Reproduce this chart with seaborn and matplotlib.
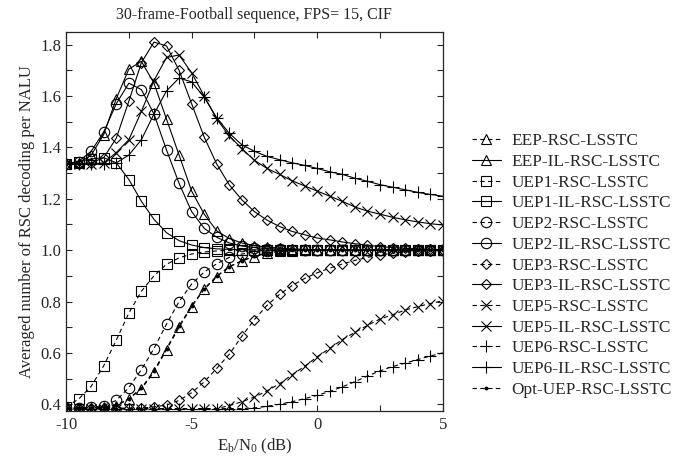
import matplotlib
matplotlib.use("Agg")
import matplotlib.pyplot as plt
import seaborn as sns
import pandas as pd
from matplotlib.ticker import MultipleLocator

ebn0 = [-10.0, -9.5, -9.0, -8.5, -8.0, -7.5, -7.0, -6.5, -6.0, -5.5, -5.0, -4.5, -4.0, -3.5,
        -3.0, -2.5, -2.0, -1.5, -1.0, -0.5, 0.0, 0.5, 1.0, 1.5, 2.0, 2.5, 3.0, 3.5, 4.0, 4.5, 5.0]

eep_rsc = [0.385, 0.385, 0.385, 0.388, 0.395, 0.42, 0.46, 0.525, 0.612, 0.70, 0.78, 0.848, 0.897,
           0.935, 0.958, 0.975, 0.988, 0.995, 0.998] + [1.0] * 12
eep_il = [1.335, 1.34, 1.37, 1.45, 1.59, 1.705, 1.735, 1.65, 1.51, 1.37, 1.23, 1.14, 1.075, 1.045,
          1.028, 1.018, 1.012, 1.008, 1.005, 1.003, 1.002, 1.001] + [1.0] * 9
uep1_rsc = [0.39, 0.42, 0.47, 0.55, 0.65, 0.755, 0.84, 0.90, 0.945, 0.97, 0.985, 0.993, 0.997,
            0.999] + [1.0] * 17
uep1_il = [1.335, 1.345, 1.355, 1.36, 1.34, 1.275, 1.19, 1.12, 1.068, 1.037, 1.02, 1.01, 1.005,
           1.003, 1.002, 1.001] + [1.0] * 15
uep2_rsc = [0.385, 0.385, 0.388, 0.395, 0.415, 0.465, 0.535, 0.617, 0.712, 0.80, 0.868, 0.915,
            0.947, 0.972, 0.985, 0.993, 0.997, 0.999] + [1.0] * 13
uep2_il = [1.335, 1.345, 1.385, 1.46, 1.57, 1.65, 1.625, 1.53, 1.39, 1.26, 1.15, 1.085, 1.05,
           1.028, 1.016, 1.01, 1.006, 1.004, 1.002, 1.001] + [1.0] * 11
uep3_rsc = [0.385] * 7 + [0.39, 0.397, 0.415, 0.445, 0.487, 0.54, 0.595, 0.665, 0.73, 0.785, 0.828,
                          0.862, 0.89, 0.912, 0.93, 0.946, 0.96, 0.972, 0.981, 0.988, 0.993, 0.996,
                          0.998, 0.999]
uep3_il = [1.335, 1.335, 1.34, 1.36, 1.436, 1.58, 1.73, 1.81, 1.795, 1.70, 1.57, 1.44, 1.335, 1.254,
           1.196, 1.15, 1.117, 1.092, 1.073, 1.06, 1.047, 1.04, 1.032, 1.025, 1.019, 1.014, 1.01,
           1.007, 1.005, 1.003, 1.002]
uep5_rsc = [0.383] * 13 + [0.395, 0.41, 0.428, 0.452, 0.48, 0.515, 0.548, 0.585, 0.618, 0.652, 0.68,
                           0.707, 0.732, 0.748, 0.767, 0.78, 0.792, 0.803]
uep5_il = [1.335, 1.335, 1.335, 1.34, 1.38, 1.43, 1.54, 1.66, 1.75, 1.76, 1.69, 1.60, 1.51, 1.445,
           1.395, 1.35, 1.318, 1.295, 1.27, 1.25, 1.23, 1.21, 1.19, 1.168, 1.152, 1.14, 1.128,
           1.118, 1.11, 1.103, 1.098]
uep6_rsc = [0.383] * 15 + [0.386, 0.392, 0.40, 0.41, 0.422, 0.435, 0.45, 0.468, 0.488, 0.51, 0.53,
                           0.547, 0.56, 0.574, 0.588, 0.60]
uep6_il = [1.335, 1.335, 1.335, 1.335, 1.34, 1.37, 1.43, 1.53, 1.62, 1.67, 1.655, 1.595, 1.515,
           1.455, 1.41, 1.385, 1.365, 1.352, 1.34, 1.33, 1.318, 1.305, 1.295, 1.28, 1.268, 1.255,
           1.245, 1.235, 1.225, 1.217, 1.21]
opt_uep = [0.385, 0.385, 0.385, 0.388, 0.396, 0.422, 0.463, 0.53, 0.617, 0.705, 0.783, 0.85, 0.899,
           0.936, 0.959, 0.977, 0.99, 0.996, 0.999] + [1.0] * 12

labels = ["EEP-RSC-LSSTC", "EEP-IL-RSC-LSSTC", "UEP1-RSC-LSSTC", "UEP1-IL-RSC-LSSTC",
          "UEP2-RSC-LSSTC", "UEP2-IL-RSC-LSSTC", "UEP3-RSC-LSSTC", "UEP3-IL-RSC-LSSTC",
          "UEP5-RSC-LSSTC", "UEP5-IL-RSC-LSSTC", "UEP6-RSC-LSSTC", "UEP6-IL-RSC-LSSTC",
          "Opt-UEP-RSC-LSSTC"]
series = [eep_rsc, eep_il, uep1_rsc, uep1_il, uep2_rsc, uep2_il, uep3_rsc, uep3_il,
          uep5_rsc, uep5_il, uep6_rsc, uep6_il, opt_uep]
markers = ["^", "^", "s", "s", "o", "o", "D", "D", "x", "x", "+", "+", "."]
msizes = [7.5, 7.5, 7, 7, 7.5, 7.5, 5.5, 5.5, 7.5, 7.5, 9, 9, 4]

sns.set_style("ticks")
plt.rcParams["font.family"] = ["Liberation Serif", "DejaVu Serif"]
plt.rcParams["mathtext.fontset"] = "custom"
plt.rcParams["mathtext.rm"] = "Liberation Serif"
plt.rcParams["mathtext.it"] = "Liberation Serif:italic"

fig = plt.figure(figsize=(6.74, 4.61), dpi=100)
ax = fig.add_axes([0.098, 0.108, 0.559, 0.823])

dash = (0, (4, 3))
for i, (lab, ys) in enumerate(zip(labels, series)):
    df = pd.DataFrame({"x": ebn0, "y": ys})
    solid = "-IL-" in lab
    mk = markers[i]
    kw = dict(marker=mk, markersize=msizes[i], markeredgecolor="black",
              markeredgewidth=0.8)
    if mk == ".":
        kw["markerfacecolor"] = "black"
    elif mk not in ("x", "+"):
        kw["markerfacecolor"] = "none"
    sns.lineplot(data=df, x="x", y="y", ax=ax, color="black", linewidth=0.8,
                 linestyle="-" if solid else dash, label=lab, **kw)

ax.set_xlim(-10, 5)
ax.set_ylim(0.373, 1.85)
ax.xaxis.set_major_locator(MultipleLocator(5))
ax.xaxis.set_minor_locator(MultipleLocator(2.5))
ax.yaxis.set_major_locator(MultipleLocator(0.2))
ax.yaxis.set_minor_locator(MultipleLocator(0.1))
ax.tick_params(which="both", direction="in", top=True, right=True, length=4, width=0.8,
               labelsize=12)
ax.tick_params(axis="x", pad=4)
for s in ax.spines.values():
    s.set_linewidth(0.9)
ax.set_xticklabels([f"{int(v)}" for v in ax.get_xticks()])
ax.set_xlabel(r"E$_\mathrm{b}$/N$_0$ (dB)", fontsize=12, labelpad=3)
ax.set_ylabel("Averaged number of RSC decoding per NALU", fontsize=12)
ax.set_title("30-frame-Football sequence, FPS= 15, CIF", fontsize=11.5, pad=9)

handles, labs = ax.get_legend_handles_labels()
ax.get_legend().remove()
fig.legend(handles, labs, loc="center left", bbox_to_anchor=(0.700, 0.424), frameon=False,
           borderaxespad=0, borderpad=0, fontsize=12.4, handlelength=1.7,
           handletextpad=0.6, labelspacing=0.27)

fig.savefig("out.png", dpi=100)
